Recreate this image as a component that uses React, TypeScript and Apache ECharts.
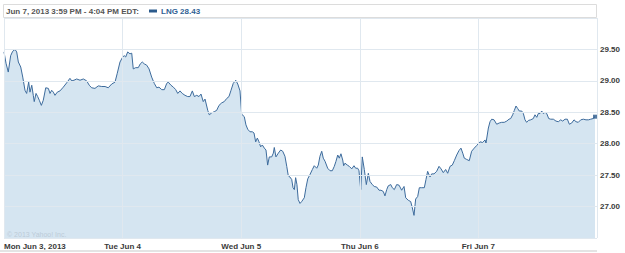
import React, { useEffect, useRef } from "react";
import * as echarts from "echarts";

// Time is in trading days since Mon open (0 = Mon 9:30, 5 = Fri close)
const monTimes = [0.0, 0.017, 0.036, 0.056, 0.073, 0.093, 0.107, 0.121, 0.141, 0.158, 0.177, 0.191, 0.208, 0.219, 0.234, 0.247, 0.255, 0.27, 0.284, 0.298, 0.315, 0.331, 0.352, 0.374, 0.388, 0.402, 0.416, 0.43, 0.449, 0.472, 0.5, 0.529, 0.556, 0.571, 0.59, 0.613, 0.641, 0.669, 0.697, 0.719, 0.739, 0.767, 0.795, 0.824, 0.852, 0.879, 0.908, 0.936, 0.955, 0.978];
const monPrices = [29.46, 29.28, 29.14, 29.4, 29.47, 29.5, 29.46, 29.3, 29.22, 29.06, 28.85, 28.8, 28.98, 28.82, 28.93, 28.77, 28.67, 28.8, 28.75, 28.69, 28.61, 28.69, 28.89, 28.88, 28.8, 28.85, 28.82, 28.77, 28.82, 28.84, 28.9, 28.97, 29.04, 29.0, 29.01, 29.03, 29.01, 29.03, 29.0, 28.93, 28.89, 28.88, 28.92, 28.91, 28.91, 28.89, 28.95, 28.98, 29.12, 29.3];

const tueTimes = [1.001, 1.014, 1.026, 1.043, 1.062, 1.077, 1.09, 1.11, 1.132, 1.149, 1.166, 1.183, 1.203, 1.223, 1.245, 1.267, 1.288, 1.307, 1.33, 1.352, 1.372, 1.385, 1.408, 1.428, 1.448, 1.465, 1.484, 1.503, 1.526, 1.549, 1.568, 1.588, 1.605, 1.625, 1.644, 1.661, 1.68, 1.695, 1.718, 1.731, 1.751, 1.773, 1.793, 1.813, 1.836, 1.857, 1.878, 1.897, 1.914, 1.933, 1.954, 1.971, 1.99];
const tuePrices = [29.38, 29.4, 29.38, 29.46, 29.43, 29.44, 29.19, 29.21, 29.21, 29.27, 29.3, 29.27, 29.25, 29.19, 29.06, 28.96, 28.89, 28.9, 28.86, 28.86, 28.96, 28.98, 28.93, 28.9, 28.86, 28.8, 28.84, 28.8, 28.77, 28.75, 28.75, 28.84, 28.75, 28.77, 28.75, 28.79, 28.67, 28.71, 28.53, 28.46, 28.49, 28.51, 28.53, 28.61, 28.65, 28.67, 28.72, 28.75, 28.85, 28.96, 29.01, 28.95, 28.84];

const wedTimes = [2.004, 2.026, 2.04, 2.055, 2.074, 2.094, 2.108, 2.122, 2.136, 2.15, 2.164, 2.178, 2.195, 2.209, 2.223, 2.237, 2.257, 2.271, 2.279, 2.293, 2.313, 2.333, 2.35, 2.369, 2.384, 2.397, 2.411, 2.426, 2.437, 2.448, 2.459, 2.47, 2.481, 2.496, 2.51, 2.532, 2.546, 2.561, 2.58, 2.6, 2.616, 2.637, 2.65, 2.664, 2.679, 2.692, 2.707, 2.729, 2.749, 2.768, 2.785, 2.799, 2.814, 2.827, 2.841, 2.856, 2.864, 2.875, 2.895, 2.911, 2.932, 2.951, 2.965, 2.982, 2.993];
const wedPrices = [28.47, 28.43, 28.3, 28.23, 28.19, 28.19, 28.17, 28.03, 28.09, 28.03, 27.95, 27.98, 27.93, 27.9, 27.66, 27.79, 27.79, 27.85, 27.94, 27.79, 27.85, 27.9, 27.88, 27.8, 27.64, 27.49, 27.47, 27.43, 27.3, 27.27, 27.46, 27.35, 27.11, 27.05, 27.08, 27.14, 27.3, 27.44, 27.51, 27.59, 27.65, 27.61, 27.66, 27.8, 27.88, 27.77, 27.72, 27.61, 27.57, 27.57, 27.64, 27.72, 27.82, 27.77, 27.84, 27.74, 27.65, 27.69, 27.66, 27.64, 27.6, 27.65, 27.61, 27.61, 27.57];

const thuTimes = [3.008, 3.021, 3.038, 3.055, 3.072, 3.086, 3.105, 3.122, 3.143, 3.162, 3.179, 3.198, 3.212, 3.227, 3.24, 3.261, 3.274, 3.291, 3.311, 3.331, 3.353, 3.373, 3.387, 3.409, 3.429, 3.443, 3.457, 3.471, 3.488, 3.502, 3.522, 3.544, 3.558, 3.572, 3.592, 3.606, 3.626, 3.648, 3.668, 3.685, 3.704, 3.724, 3.741, 3.761, 3.78, 3.797, 3.817, 3.836, 3.853, 3.868, 3.881, 3.901, 3.923, 3.943, 3.965, 3.985];
const thuPrices = [27.27, 27.79, 27.59, 27.35, 27.53, 27.4, 27.35, 27.32, 27.31, 27.26, 27.26, 27.24, 27.17, 27.27, 27.33, 27.35, 27.3, 27.27, 27.35, 27.34, 27.26, 27.32, 27.14, 27.1, 27.08, 26.98, 26.86, 27.12, 27.16, 27.3, 27.3, 27.3, 27.43, 27.56, 27.47, 27.52, 27.52, 27.56, 27.64, 27.6, 27.54, 27.59, 27.53, 27.64, 27.66, 27.73, 27.82, 27.89, 27.93, 27.85, 27.77, 27.75, 27.73, 27.88, 27.93, 27.97];

const friTimes = [4.013, 4.036, 4.056, 4.064, 4.084, 4.098, 4.112, 4.132, 4.154, 4.176, 4.196, 4.218, 4.239, 4.258, 4.272, 4.289, 4.303, 4.317, 4.331, 4.345, 4.365, 4.379, 4.393, 4.407, 4.421, 4.441, 4.463, 4.477, 4.492, 4.505, 4.519, 4.534, 4.547, 4.562, 4.576, 4.593, 4.61, 4.632, 4.654, 4.674, 4.694, 4.711, 4.73, 4.75, 4.767, 4.787, 4.806, 4.823, 4.842, 4.863, 4.885, 4.907, 4.928, 4.947, 4.966, 4.983];
const friPrices = [28.03, 28.02, 28.06, 28.01, 28.25, 28.35, 28.39, 28.38, 28.31, 28.33, 28.34, 28.34, 28.36, 28.39, 28.4, 28.46, 28.53, 28.6, 28.56, 28.52, 28.52, 28.48, 28.38, 28.34, 28.37, 28.38, 28.4, 28.46, 28.42, 28.48, 28.48, 28.52, 28.48, 28.5, 28.48, 28.4, 28.39, 28.39, 28.36, 28.35, 28.38, 28.36, 28.39, 28.39, 28.31, 28.33, 28.38, 28.35, 28.34, 28.38, 28.39, 28.38, 28.38, 28.39, 28.4, 28.43];

const dayLabels = ["Mon Jun 3, 2013", "Tue Jun 4", "Wed Jun 5", "Thu Jun 6", "Fri Jun 7"];
const yTicks = [27.0, 27.5, 28.0, 28.5, 29.0, 29.5];
const headerLabel = "Jun 7, 2013 3:59 PM - 4:04 PM EDT:";
const symbolName = "LNG";
const copyright = "© 2013 Yahoo! Inc.";

const FONT = "'Liberation Sans', Arial, sans-serif";

export default function App() {
  const ref = useRef<HTMLDivElement>(null);

  useEffect(() => {
    if (!ref.current) return;
    const chart = echarts.init(ref.current, undefined, { renderer: "svg" });

    const times = [...monTimes, ...tueTimes, ...wedTimes, ...thuTimes, ...friTimes];
    const prices = [...monPrices, ...tuePrices, ...wedPrices, ...thuPrices, ...friPrices];
    const data = times.map((t, i) => [t, prices[i]]);
    const last = data[data.length - 1];

    const gridColor = "#e0e8ef";

    chart.setOption({
      animation: false,
      backgroundColor: "#ffffff",
      grid: { left: 4, right: 28, top: 18, bottom: 15, containLabel: false },
      xAxis: {
        type: "value",
        min: 0,
        max: 5,
        interval: 1,
        z: 5,
        axisLine: { show: false },
        axisTick: { show: false },
        splitLine: { show: true, lineStyle: { color: gridColor, width: 1 } },
        axisLabel: {
          margin: 4,
          fontFamily: FONT,
          fontSize: 8,
          fontWeight: "bold",
          color: "#3a3a3a",
          alignMinLabel: "left",
          formatter: (v: number) => (Number.isInteger(v) && v < dayLabels.length ? dayLabels[v] : ""),
        },
      },
      yAxis: {
        type: "value",
        position: "right",
        min: 26.5,
        max: 30,
        interval: 0.5,
        z: 5,
        axisLine: { show: false },
        axisTick: { show: false },
        splitLine: { show: true, lineStyle: { color: gridColor, width: 1 } },
        axisLabel: {
          margin: 3,
          fontFamily: FONT,
          fontSize: 8,
          fontWeight: "bold",
          color: "#3a3a3a",
          formatter: (v: number) => (yTicks.some((t) => Math.abs(t - v) < 1e-6) ? v.toFixed(2) : ""),
        },
      },
      series: [
        {
          type: "line",
          data,
          showSymbol: false,
          symbol: "none",
          z: 2,
          lineStyle: { color: "#3d6b9c", width: 1 },
          areaStyle: { color: "#d5e5f1", opacity: 1, origin: "start" },
        },
        {
          type: "scatter",
          data: [last],
          symbol: "rect",
          symbolSize: 4,
          z: 6,
          itemStyle: { color: "#2b5a8c" },
        },
      ],
      graphic: [
        {
          type: "rect",
          shape: { x: 3.5, y: 4.5, width: 593, height: 13 },
          style: { fill: "#ffffff", stroke: "#dcdcdc", lineWidth: 1 },
          z: 10,
        },
        {
          type: "text",
          x: 6,
          y: 11.5,
          style: {
            text: headerLabel,
            fill: "#555555",
            font: `bold 8px ${FONT}`,
            verticalAlign: "middle",
          },
          z: 11,
        },
        {
          type: "rect",
          shape: { x: 149, y: 9.5, width: 8, height: 3 },
          style: { fill: "#2b5a8c" },
          z: 11,
        },
        {
          type: "text",
          x: 161,
          y: 11.5,
          style: {
            text: `${symbolName} ${last[1].toFixed(2)}`,
            fill: "#2f5f94",
            font: `bold 8px ${FONT}`,
            verticalAlign: "middle",
          },
          z: 11,
        },
        {
          type: "text",
          x: 7,
          y: 234,
          style: {
            text: copyright,
            fill: "#bccbd8",
            font: `7px ${FONT}`,
            verticalAlign: "middle",
          },
          z: 11,
        },
        {
          type: "rect",
          shape: { x: 0, y: 250, width: 597, height: 2 },
          style: { fill: "#e4e4e4" },
          z: 11,
        },
      ],
    });

    return () => chart.dispose();
  }, []);

  return (
    <div
      ref={ref}
      style={{ position: "absolute", left: 0, top: 0, width: 625, height: 253 }}
    />
  );
}
